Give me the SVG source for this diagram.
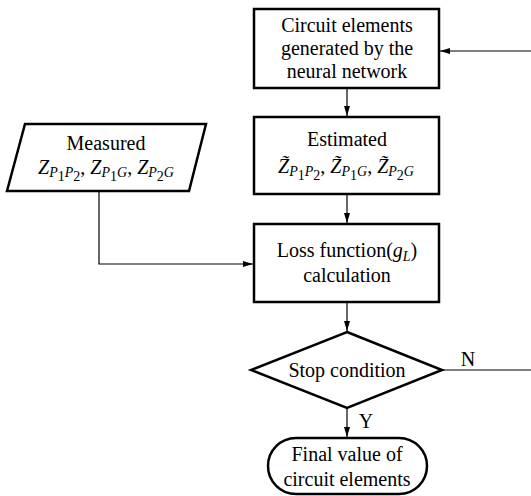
<svg xmlns="http://www.w3.org/2000/svg" width="531" height="496" viewBox="0 0 531 496">
<style>
.node{fill:#fff;stroke:#000;stroke-width:2.5}
.c{fill:none;stroke:#000;stroke-width:1.2}
</style>
<defs>
<marker id="ah" markerWidth="10" markerHeight="6" refX="10" refY="3" orient="auto" markerUnits="userSpaceOnUse">
<path d="M0,0 L10,3 L0,6 z" fill="#000"/>
</marker>
</defs>
<g id="connectors">
<path class="c" d="M531,51 H440" marker-end="url(#ah)"/>
<path class="c" d="M347,88 V116" marker-end="url(#ah)"/>
<path class="c" d="M347,194 V223" marker-end="url(#ah)"/>
<path class="c" d="M99,191 V264 H253" marker-end="url(#ah)"/>
<path class="c" d="M347,302 V331" marker-end="url(#ah)"/>
<path class="c" d="M347,408 V437" marker-end="url(#ah)"/>
<path class="c" d="M442,370 H531"/>
<text x="468" y="366" font-family="Liberation Serif" font-size="20" text-anchor="middle">N</text>
<text x="366" y="428" font-family="Liberation Serif" font-size="20" text-anchor="middle">Y</text>
</g>
<g id="n1">
<rect class="node" x="254" y="9" width="185" height="79"/>
<text x="347" y="32" font-family="Liberation Serif" font-size="20" text-anchor="middle">Circuit elements</text>
<text x="347" y="55" font-family="Liberation Serif" font-size="20" text-anchor="middle">generated by the</text>
<text x="347" y="78" font-family="Liberation Serif" font-size="20" text-anchor="middle">neural network</text>
</g>
<g id="n2">
<rect class="node" x="254" y="117" width="185" height="77"/>
<text x="347" y="146" font-family="Liberation Serif" font-size="20" text-anchor="middle">Estimated</text>
<text x="346" y="173" font-family="Liberation Serif" font-size="20" text-anchor="middle"><tspan font-style="italic">Z̃</tspan><tspan font-style="italic" font-size="14" dy="3">P</tspan><tspan font-size="14" dy="4">1</tspan><tspan font-style="italic" font-size="14" dy="-4">P</tspan><tspan font-size="14" dy="4">2</tspan><tspan dy="-7">, </tspan><tspan font-style="italic">Z̃</tspan><tspan font-style="italic" font-size="14" dy="3">P</tspan><tspan font-size="14" dy="4">1</tspan><tspan font-style="italic" font-size="14" dy="-4">G</tspan><tspan dy="-3">, </tspan><tspan font-style="italic">Z̃</tspan><tspan font-style="italic" font-size="14" dy="3">P</tspan><tspan font-size="14" dy="4">2</tspan><tspan font-style="italic" font-size="14" dy="-4">G</tspan></text>
</g>
<g id="n3">
<path class="node" d="M25,124 H206 L189,191 H7 Z"/>
<text x="106" y="150" font-family="Liberation Serif" font-size="20" text-anchor="middle">Measured</text>
<text x="106" y="174" font-family="Liberation Serif" font-size="20" text-anchor="middle"><tspan font-style="italic">Z</tspan><tspan font-style="italic" font-size="14" dy="3">P</tspan><tspan font-size="14" dy="4">1</tspan><tspan font-style="italic" font-size="14" dy="-4">P</tspan><tspan font-size="14" dy="4">2</tspan><tspan dy="-7">, </tspan><tspan font-style="italic">Z</tspan><tspan font-style="italic" font-size="14" dy="3">P</tspan><tspan font-size="14" dy="4">1</tspan><tspan font-style="italic" font-size="14" dy="-4">G</tspan><tspan dy="-3">, </tspan><tspan font-style="italic">Z</tspan><tspan font-style="italic" font-size="14" dy="3">P</tspan><tspan font-size="14" dy="4">2</tspan><tspan font-style="italic" font-size="14" dy="-4">G</tspan></text>
</g>
<g id="n4">
<rect class="node" x="254" y="224" width="185" height="78"/>
<text x="347" y="257" font-family="Liberation Serif" font-size="20" text-anchor="middle">Loss function(<tspan font-style="italic">g</tspan><tspan font-style="italic" font-size="14" dy="4">L</tspan><tspan dy="-4">)</tspan></text>
<text x="347" y="282" font-family="Liberation Serif" font-size="20" text-anchor="middle">calculation</text>
</g>
<g id="n5">
<path class="node" d="M347,332 L442,370 L347,408 L251,370 Z"/>
<text x="347" y="377" font-family="Liberation Serif" font-size="20" text-anchor="middle">Stop condition</text>
</g>
<g id="n6">
<path class="node" d="M296,438 H399 A28,28 0 0 1 399,494 H296 A28,28 0 0 1 296,438 Z"/>
<text x="347" y="461" font-family="Liberation Serif" font-size="20" text-anchor="middle">Final value of</text>
<text x="347" y="486" font-family="Liberation Serif" font-size="20" text-anchor="middle">circuit elements</text>
</g>
</svg>
